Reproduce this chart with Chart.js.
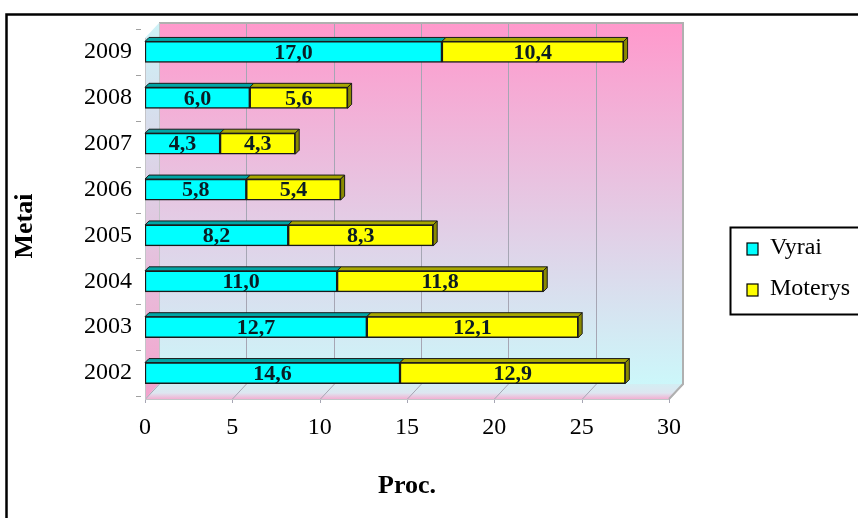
<!DOCTYPE html>
<html><head><meta charset="utf-8">
<script src="https://cdn.jsdelivr.net/npm/chart.js@4"></script>
<style>html,body{margin:0;padding:0;background:#fff}#wrap{width:858px;height:518px;position:relative;overflow:hidden}</style>
</head><body><div id="wrap"><canvas id="c" width="858" height="518"></canvas></div>
<script>
const years = ['2002','2003','2004','2005','2006','2007','2008','2009'];
const vyrai = [14.6, 12.7, 11.0, 8.2, 5.8, 4.3, 6.0, 17.0];
const moterys = [12.9, 12.1, 11.8, 8.3, 5.4, 4.3, 5.6, 10.4];
const seriesNames = ['Vyrai', 'Moterys'];
const xTicks = [0, 5, 10, 15, 20, 25, 30];
const xTitle = 'Proc.';
const yTitle = 'Metai';

const FONT = "'Liberation Serif','Times New Roman',serif";
const DX = 14, DY = 15, D = 4;
const seriesColors = ['#00ffff', '#ffff00'];
const topColors = ['#00a6a6', '#a8a800'];
const sideColors = ['#008a8a', '#8a8a00'];

const scenePlugin = {
  id: 'scene',
  beforeDatasetsDraw(chart) {
    const {ctx, chartArea: a, scales: {x}} = chart;
    const fl = a.bottom + 3, bTop = a.top - 6, bBot = fl - DY;
    const L = a.left, R = a.right;
    ctx.save();
    // back wall
    let g = ctx.createLinearGradient(0, bTop, 0, bBot);
    g.addColorStop(0, '#ff99cc'); g.addColorStop(1, '#ccf7fa');
    ctx.fillStyle = g;
    ctx.fillRect(L + DX, bTop, R - L, bBot - bTop);
    // side wall
    g = ctx.createLinearGradient(0, bTop, 0, fl);
    g.addColorStop(0, '#cdf2f7'); g.addColorStop(1, '#f4a3cd');
    ctx.fillStyle = g;
    ctx.beginPath();
    ctx.moveTo(L, bTop + DY); ctx.lineTo(L + DX, bTop); ctx.lineTo(L + DX, bBot); ctx.lineTo(L, fl); ctx.closePath();
    ctx.fill();
    // floor
    g = ctx.createLinearGradient(0, bBot, 0, fl);
    g.addColorStop(0, '#d3eef3'); g.addColorStop(0.6, '#dde6f0'); g.addColorStop(1, '#f2b0d2');
    ctx.fillStyle = g;
    ctx.beginPath();
    ctx.moveTo(L, fl); ctx.lineTo(L + DX, bBot); ctx.lineTo(R + DX, bBot); ctx.lineTo(R, fl); ctx.closePath();
    ctx.fill();
    // grid lines
    ctx.strokeStyle = '#a6a6b4'; ctx.lineWidth = 1;
    xTicks.forEach(v => {
      const px = Math.round(x.getPixelForValue(v)) + 0.5;
      ctx.beginPath();
      if (v > 0 && v < 30) { ctx.moveTo(px + DX, bTop); ctx.lineTo(px + DX, bBot); }
      ctx.moveTo(px + DX, bBot); ctx.lineTo(px, fl);
      ctx.moveTo(px, fl); ctx.lineTo(px, fl + 4);
      ctx.stroke();
    });
    // wall edges
    ctx.strokeStyle = '#b0b0b0'; ctx.lineWidth = 2;
    ctx.beginPath();
    ctx.moveTo(L + DX, bTop); ctx.lineTo(R + DX, bTop); ctx.lineTo(R + DX, bBot); ctx.lineTo(R, fl);
    ctx.stroke();
    ctx.strokeStyle = '#c4c4c8'; ctx.lineWidth = 1;
    ctx.beginPath();
    ctx.moveTo(L + DX + 0.5, bTop); ctx.lineTo(L + DX + 0.5, bBot);
    ctx.moveTo(L, fl + 0.5); ctx.lineTo(R, fl + 0.5);
    ctx.moveTo(L + 0.5, bTop + DY); ctx.lineTo(L + 0.5, fl);
    ctx.stroke();
    // y ticks at category boundaries
    ctx.strokeStyle = '#a0a0a0';
    const n = years.length, step = (a.bottom - a.top) / n;
    for (let k = 0; k <= n; k++) {
      const yy = Math.round(a.top + k * step) + 0.5;
      ctx.beginPath(); ctx.moveTo(L - 9, yy); ctx.lineTo(L - 4, yy); ctx.stroke();
    }
    // 3D faces of bars
    ctx.lineWidth = 1; ctx.strokeStyle = '#1a1a1a';
    chart.data.datasets.forEach((ds, di) => {
      const meta = chart.getDatasetMeta(di);
      meta.data.forEach(el => {
        const p = el.getProps(['x', 'y', 'base', 'height'], true);
        const x0 = Math.min(p.base, p.x), x1 = Math.max(p.base, p.x);
        const t = p.y - p.height / 2, b = p.y + p.height / 2;
        ctx.fillStyle = topColors[di];
        ctx.beginPath();
        ctx.moveTo(x0, t); ctx.lineTo(x0 + D, t - D); ctx.lineTo(x1 + D, t - D); ctx.lineTo(x1, t); ctx.closePath();
        ctx.fill(); ctx.stroke();
        if (di === chart.data.datasets.length - 1) {
          ctx.fillStyle = sideColors[di];
          ctx.beginPath();
          ctx.moveTo(x1, t); ctx.lineTo(x1 + D, t - D); ctx.lineTo(x1 + D, b - D); ctx.lineTo(x1, b); ctx.closePath();
          ctx.fill(); ctx.stroke();
        }
      });
    });
    ctx.restore();
  },
  afterDatasetsDraw(chart) {
    const {ctx} = chart;
    ctx.save();
    ctx.font = 'bold 22px ' + FONT;
    ctx.fillStyle = '#0b1c24';
    ctx.textAlign = 'center'; ctx.textBaseline = 'middle';
    chart.data.datasets.forEach((ds, di) => {
      chart.getDatasetMeta(di).data.forEach((el, i) => {
        const p = el.getProps(['x', 'y', 'base'], true);
        ctx.fillText(ds.data[i].toFixed(1).replace('.', ','), (p.x + p.base) / 2, p.y + 1);
      });
    });
    ctx.restore();
  },
  afterDraw(chart) {
    const {ctx} = chart;
    ctx.save();
    // outer border
    ctx.strokeStyle = '#000'; ctx.lineWidth = 2.5;
    ctx.strokeRect(6.5, 14.5, 1000, 1000);
    // axis titles
    ctx.fillStyle = '#000';
    ctx.font = 'bold 26px ' + FONT;
    ctx.textAlign = 'center'; ctx.textBaseline = 'middle';
    ctx.fillText(xTitle, 407, 486);
    ctx.translate(25, 226); ctx.rotate(-Math.PI / 2);
    ctx.fillText(yTitle, 0, 0);
    ctx.setTransform(1, 0, 0, 1, 0, 0);
    // legend
    ctx.lineWidth = 2;
    ctx.strokeRect(730.5, 227.5, 200, 87);
    ctx.font = '24px ' + FONT;
    ctx.textAlign = 'left'; ctx.textBaseline = 'alphabetic';
    seriesNames.forEach((nm, i) => {
      const y0 = 243 + i * 41;
      ctx.fillStyle = seriesColors[i];
      ctx.fillRect(747, y0, 11, 12);
      ctx.lineWidth = 1.2; ctx.strokeStyle = '#000';
      ctx.strokeRect(747, y0, 11, 12);
      ctx.fillStyle = '#000';
      ctx.fillText(nm, 770, y0 + 11);
    });
    ctx.restore();
  }
};

new Chart(document.getElementById('c'), {
  type: 'bar',
  data: {
    labels: years,
    datasets: [
      {label: seriesNames[0], data: vyrai, backgroundColor: seriesColors[0], borderColor: '#1a1a1a', borderWidth: 1.5, borderSkipped: false, barThickness: 21},
      {label: seriesNames[1], data: moterys, backgroundColor: seriesColors[1], borderColor: '#1a1a1a', borderWidth: 1.5, borderSkipped: false, barThickness: 21}
    ]
  },
  options: {
    indexAxis: 'y',
    responsive: false,
    devicePixelRatio: 1,
    animation: false,
    layout: {padding: {left: 0, right: 189, top: 29, bottom: 72}},
    plugins: {legend: {display: false}, tooltip: {enabled: false}},
    scales: {
      x: {
        type: 'linear', min: 0, max: 30, stacked: true,
        grid: {display: false}, border: {display: false},
        afterBuildTicks: s => { s.ticks = xTicks.map(v => ({value: v})); },
        ticks: {font: {family: FONT, size: 24}, color: '#000', padding: 9, maxRotation: 0},
        afterFit: s => { s.height = 50; }
      },
      y: {
        type: 'category', stacked: true, reverse: true,
        grid: {display: false}, border: {display: false},
        ticks: {font: {family: FONT, size: 24}, color: '#000', padding: 5},
        afterFit: s => { s.width = 145; }
      }
    }
  },
  plugins: [scenePlugin]
});
</script></body></html>
